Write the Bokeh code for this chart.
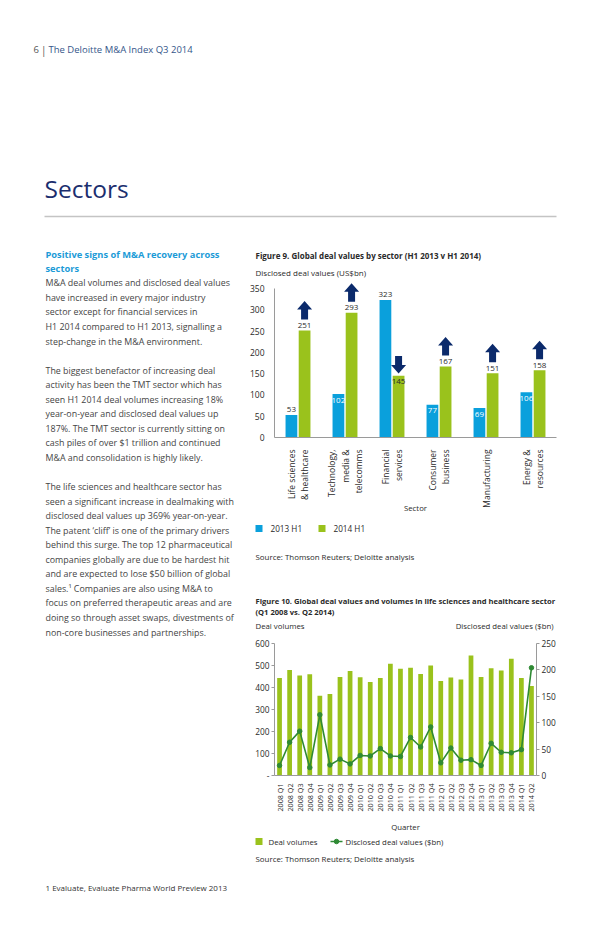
import math
from bokeh.plotting import figure
from bokeh.layouts import column, row
from bokeh.models import (Range1d, FactorRange, LinearAxis, FixedTicker, LabelSet,
                          ColumnDataSource)
from bokeh.core.properties import value
from bokeh.embed import file_html
from bokeh.resources import INLINE

FONT = "Open Sans"
TXT = "#2a2a2a"
BLUE = "#0aa0dc"
GREEN = "#9ac21c"
NAVY = "#0b2a6b"
LINEGREEN = "#2f8a34"
AXIS = "#9a9a9a"

# ---------------- data: figure 9 ----------------
sectors = ["Life sciences\n& healthcare", "Technology,\nmedia &\ntelecomms",
           "Financial\nservices", "Consumer\nbusiness", "Manufacturing",
           "Energy &\nresources"]
h1_2013 = [53, 102, 323, 77, 69, 106]
h1_2014 = [251, 293, 145, 167, 151, 158]
fig9_yticks = [0, 50, 100, 150, 200, 250, 300, 350]
fig9_series = ["2013 H1", "2014 H1"]

# ---------------- data: figure 10 ----------------
quarters = ["2008 Q1", "2008 Q2", "2008 Q3", "2008 Q4",
            "2009 Q1", "2009 Q2", "2009 Q3", "2009 Q4",
            "2010 Q1", "2010 Q2", "2010 Q3", "2010 Q4",
            "2011 Q1", "2011 Q2", "2011 Q3", "2011 Q4",
            "2012 Q1", "2012 Q2", "2012 Q3", "2012 Q4",
            "2013 Q1", "2013 Q2", "2013 Q3", "2013 Q4",
            "2014 Q1", "2014 Q2"]
deal_volumes = [443, 480, 455, 460, 362, 370, 448, 475, 447, 425, 443, 508, 485,
                490, 461, 500, 430, 445, 436, 545, 448, 488, 477, 531, 443, 407]
deal_values = [19, 63, 84, 15, 115, 20, 31, 22, 38, 37, 51, 37, 36,
               72, 54, 92, 24, 52, 29, 30, 19, 61, 44, 43, 49, 204]
vol_ticks = [0, 100, 200, 300, 400, 500, 600]
val_ticks = [0, 50, 100, 150, 200, 250]

# ---------------- page text ----------------
header_num = "6"
header_title = "The Deloitte M&A Index Q3 2014"
section_title = "Sectors"
side_heading = ["Positive signs of M&A recovery across", "sectors"]
body_lines = [
    "M&A deal volumes and disclosed deal values",
    "have increased in every major industry",
    "sector except for financial services in",
    "H1 2014 compared to H1 2013, signalling a",
    "step-change in the M&A environment.",
    "",
    "The biggest benefactor of increasing deal",
    "activity has been the TMT sector which has",
    "seen H1 2014 deal volumes increasing 18%",
    "year-on-year and disclosed deal values up",
    "187%. The TMT sector is currently sitting on",
    "cash piles of over $1 trillion and continued",
    "M&A and consolidation is highly likely.",
    "",
    "The life sciences and healthcare sector has",
    "seen a significant increase in dealmaking with",
    "disclosed deal values up 369% year-on-year.",
    "The patent \u2018cliff\u2019 is one of the primary drivers",
    "behind this surge. The top 12 pharmaceutical",
    "companies globally are due to be hardest hit",
    "and are expected to lose $50 billion of global",
    "sales.\u00b9 Companies are also using M&A to",
    "focus on preferred therapeutic areas and are",
    "doing so through asset swaps, divestments of",
    "non-core businesses and partnerships.",
]
fig9_title = "Figure 9. Global deal values by sector (H1 2013 v H1 2014)"
fig9_ylabel = "Disclosed deal values (US$bn)"
fig10_title = ["Figure 10. Global deal values and volumes in life sciences and healthcare sector",
               "(Q1 2008 vs. Q2 2014)"]
fig10_left_label = "Deal volumes"
fig10_right_label = "Disclosed deal values ($bn)"
source_text = "Source: Thomson Reuters; Deloitte analysis"
footnote = "1  Evaluate, Evaluate Pharma World Preview 2013"


def text_fig(w, h, x0=0):
    p = figure(width=w, height=h, x_range=Range1d(x0, x0 + w), y_range=Range1d(h, 0),
               output_backend="svg", toolbar_location=None,
               x_axis_type=None, y_axis_type=None, min_border=0)
    p.outline_line_color = None
    p.background_fill_color = "white"
    p.border_fill_color = "white"
    return p


def put(p, x, y, text, size, color=TXT, bold=False, align="left"):
    p.text(x=[x], y=[y], text=[text], text_font=value(FONT), text_font_size=size,
           text_font_style="bold" if bold else "normal", text_color=color,
           text_align=align, text_baseline="middle")


RW = 354      # width of the right-hand column
RX0 = -4      # its local x origin (page x = 250 + local x)

# ---------------- header ----------------
hdr = text_fig(600, 230)
put(hdr, 33, 49, header_num, "9.5px", color="#555555")
put(hdr, 40.5, 49, "|", "10px", color="#555555")
put(hdr, 48, 49, header_title, "9.5px", color="#35568a")
put(hdr, 44, 188, section_title, "24.5px", color="#1b2e6e")
hdr.segment(x0=[44], y0=[216], x1=[556], y1=[216], line_color="#c4c4c4", line_width=1.5)

# ---------------- left text column ----------------
left = text_fig(600 - RW, 640)
for k, s in enumerate(side_heading):
    put(left, 45, 24 + 14 * k, s, "9.3px", color="#1c9bd7", bold=True)
body_y = [52.3 + 14.55 * k for k in range(len(body_lines))]
left.text(x=[45] * len(body_lines), y=body_y, text=body_lines, text_font=value(FONT),
          text_font_size="8.9px", text_color="#454545", text_baseline="middle")

# ---------------- figure 9 ----------------
t9 = text_fig(RW, 49, RX0)
put(t9, 5, 25, fig9_title, "8px", bold=True)
put(t9, 5, 42, fig9_ylabel, "8px")

p9 = figure(width=RW, height=242, x_range=Range1d(0, 6), y_range=Range1d(0, 364),
            output_backend="svg", toolbar_location=None,
            min_border_left=28, min_border_right=44, min_border_top=3, min_border_bottom=84)
p9.outline_line_color = None
p9.grid.visible = False
p9.background_fill_color = "white"
p9.border_fill_color = "white"

centers = [i + 0.5 for i in range(len(sectors))]
x13 = [c - 0.14 for c in centers]
x14 = [c + 0.14 for c in centers]
p9.vbar(x=x13, top=h1_2013, width=0.25, fill_color=BLUE, line_color=None)
p9.vbar(x=x14, top=h1_2014, width=0.25, fill_color=GREEN, line_color=None)

# change arrows (direction taken from the data)
u = 350.0 / 149.0          # data units per pixel
hw_shaft, hw_head = 3.5 / 47, 7.5 / 47
xs, ys = [], []
for xc, a, b in zip(x14, h1_2013, h1_2014):
    px = [xc - hw_shaft, xc - hw_shaft, xc - hw_head, xc, xc + hw_head,
          xc + hw_shaft, xc + hw_shaft]
    if b >= a:
        y0 = b + 11 * u
        y1 = y0 + 10 * u
        y2 = y1 + 8.5 * u
        ys.append([y0, y1, y1, y2, y1, y1, y0])
    else:
        t = b + 2.3 * u
        hb = t + 8.5 * u
        st = hb + 9 * u
        ys.append([st, hb, hb, t, hb, hb, st])
    xs.append(px)
p9.patches(xs=xs, ys=ys, fill_color=NAVY, line_color=None)

# value labels
pos13 = ["out", "in", "out", "in", "in", "in"]
pos14 = ["out", "out", "in", "out", "out", "out"]
lx, ly, lt, lc, lo = [], [], [], [], []
for xx, vv, pp, incol in list(zip(x13, h1_2013, pos13, ["white"] * 6)) + \
        list(zip(x14, h1_2014, pos14, [TXT] * 6)):
    lx.append(xx)
    ly.append(vv)
    lt.append(str(vv))
    lc.append(incol if pp == "in" else TXT)
    lo.append(-6 if pp == "in" else 5)
lsrc = ColumnDataSource(dict(x=lx, y=ly, t=lt, c=lc, o=lo))
p9.add_layout(LabelSet(x="x", y="y", text="t", source=lsrc, text_color="c", y_offset="o",
                       text_align="center", text_baseline="middle",
                       text_font=value(FONT), text_font_size="8px"))

p9.yaxis.ticker = FixedTicker(ticks=fig9_yticks)
p9.yaxis.bounds = (0, 350)
p9.xaxis.ticker = FixedTicker(ticks=centers)
p9.xaxis.major_label_overrides = {c: s for c, s in zip(centers, sectors)}
p9.xaxis.major_label_orientation = math.pi / 2
for ax in (p9.xaxis, p9.yaxis):
    ax.axis_line_color = AXIS
    ax.major_tick_line_color = None
    ax.minor_tick_line_color = None
    ax.major_label_text_font = FONT
    ax.major_label_text_font_size = "8.5px"
    ax.major_label_text_color = TXT
p9.yaxis.major_label_standoff = 4
p9.xaxis.major_label_standoff = 6
p9.xaxis.axis_label = "Sector"
p9.xaxis.axis_label_standoff = -8
p9.xaxis.axis_label_text_font = FONT
p9.xaxis.axis_label_text_font_size = "7.8px"
p9.xaxis.axis_label_text_font_style = "normal"
p9.xaxis.axis_label_text_color = TXT

# legend / source strip under figure 9
b9 = text_fig(RW, 59, RX0)
b9.rect(x=[8.5, 71.5], y=[7, 7], width=7, height=7, fill_color=[BLUE, GREEN], line_color=None)
b9.text(x=[20, 83], y=[7, 7], text=fig9_series, text_font=value(FONT), text_font_size="8.2px",
        text_color=TXT, text_baseline="middle")
put(b9, 5, 35, source_text, "7.9px")

# ---------------- figure 10 ----------------
t10 = text_fig(RW, 56, RX0)
put(t10, 5, 20, fig10_title[0], "7.6px", bold=True)
put(t10, 5, 31, fig10_title[1], "7.6px", bold=True)
put(t10, 5, 45, fig10_left_label, "7.8px")
put(t10, 303, 45, fig10_right_label, "7.8px", align="right")

p10 = figure(width=RW, height=198, x_range=FactorRange(factors=quarters),
             y_range=Range1d(0, 600), output_backend="svg", toolbar_location=None,
             min_border_left=28, min_border_right=64, min_border_top=7, min_border_bottom=57)
p10.outline_line_color = None
p10.grid.visible = False
p10.background_fill_color = "white"
p10.border_fill_color = "white"
p10.extra_y_ranges = {"val": Range1d(0, 250)}

p10.vbar(x=quarters, top=deal_volumes, width=0.47, fill_color=GREEN, line_color=None)
p10.line(x=quarters, y=deal_values, y_range_name="val", line_color=LINEGREEN, line_width=1.6)
p10.scatter(x=quarters, y=deal_values, y_range_name="val", marker="circle", size=4.5,
            fill_color=LINEGREEN, line_color=LINEGREEN)

p10.yaxis.ticker = FixedTicker(ticks=vol_ticks)
p10.yaxis.major_label_overrides = {0: "-"}
ax_r = LinearAxis(y_range_name="val", ticker=FixedTicker(ticks=val_ticks))
p10.add_layout(ax_r, "right")
p10.xaxis.major_label_orientation = math.pi / 2
for ax in (p10.xaxis, p10.yaxis[0], ax_r):
    ax.axis_line_color = AXIS
    ax.major_tick_line_color = AXIS
    ax.major_tick_out = 3
    ax.major_tick_in = 0
    ax.minor_tick_line_color = None
    ax.major_label_text_font = FONT
    ax.major_label_text_font_size = "8.3px"
    ax.major_label_text_color = TXT
    ax.major_label_standoff = 2
p10.xaxis.major_tick_line_color = None
p10.xaxis.major_label_text_font_size = "7.2px"
p10.xaxis.major_label_standoff = 5
p10.xaxis.axis_label = "Quarter"
p10.xaxis.axis_label_standoff = 7
p10.xaxis.axis_label_text_font = FONT
p10.xaxis.axis_label_text_font_size = "7.8px"
p10.xaxis.axis_label_text_font_style = "normal"
p10.xaxis.axis_label_text_color = TXT

# legend / source strip under figure 10
b10 = text_fig(RW, 36, RX0)
b10.rect(x=[8.5], y=[7], width=7, height=7, fill_color=GREEN, line_color=None)
b10.segment(x0=[80], y0=[7], x1=[92], y1=[7], line_color=LINEGREEN, line_width=1.6)
b10.scatter(x=[86], y=[7], marker="circle", size=4.5, fill_color=LINEGREEN,
            line_color=LINEGREEN)
b10.text(x=[18, 95], y=[7, 7], text=[fig10_left_label, fig10_right_label],
         text_font=value(FONT), text_font_size="7.8px", text_color=TXT,
         text_baseline="middle")
put(b10, 5, 24, source_text, "7.9px")

# ---------------- footer ----------------
ftr = text_fig(600, 65)
put(ftr, 45, 17, footnote, "8px", color="#333333")

# charts wrapped in their own rows so their frames are not aligned with the text strips
right = column(t9, row(p9, spacing=0), b9, t10, row(p10, spacing=0), b10, spacing=0)
page = column(hdr, row(left, right, spacing=0), ftr, spacing=0)
open("out.html", "w").write(file_html(page, INLINE))
